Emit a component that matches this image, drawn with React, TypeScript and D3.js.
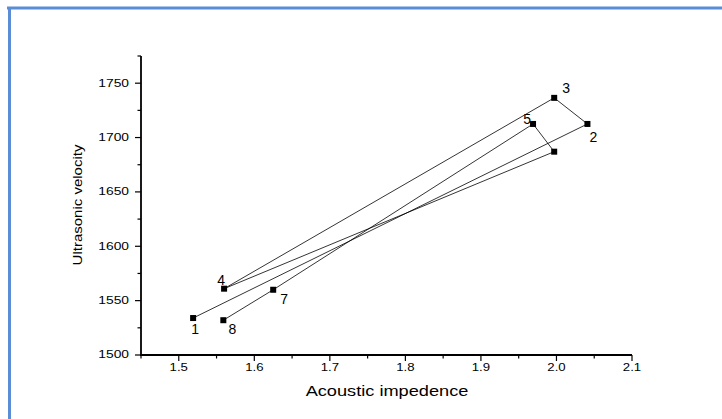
import React from 'react';
import * as d3 from 'd3';

// samples in the order the line joins them: (acoustic impedance, ultrasonic velocity)
const labels = ['1', '2', '3', '4', '6', '5', '7', '8'];
const impedance = [1.519, 2.041, 1.997, 1.56, 1.997, 1.969, 1.625, 1.559];
const velocity = [1534, 1712.5, 1736.5, 1561, 1687, 1712.5, 1560, 1532];
const xTicks = [1.5, 1.6, 1.7, 1.8, 1.9, 2.0, 2.1];
const yTicks = [1500, 1550, 1600, 1650, 1700, 1750];

// where each number sits relative to its marker (px); point 6 has none
const labelOffset: Record<string, [number, number] | null> = {
  '1': [2, 11],
  '2': [6, 13],
  '3': [12, -10],
  '4': [-3, -9],
  '5': [-6, -5],
  '6': null,
  '7': [11, 9],
  '8': [9, 9],
};

const W = 722;
const H = 419;
const font = "'Liberation Sans', Arial, sans-serif";

const App = () => {
  const x = d3.scaleLinear().domain([1.45, 2.1]).range([141, 632]);
  const y = d3.scaleLinear().domain([1500, 1775]).range([355, 56]);

  const pts = labels.map((l, i) => ({ label: l, x: x(impedance[i]), y: y(velocity[i]) }));
  const line = d3.line<{ x: number; y: number }>().x(d => d.x).y(d => d.y);

  const xMinor = d3.range(1.45, 2.1, 0.1).map(v => +(v.toFixed(2)));
  const yMinor = d3.range(1525, 1800, 50);

  return (
    <svg
      width={W}
      height={H}
      style={{ position: 'absolute', left: 0, top: 0, background: '#fff' }}
    >
      {/* blue frame */}
      <line x1={7} x2={W} y1={8} y2={8} stroke="#5b8dd6" strokeWidth={3} />
      <line x1={9.5} x2={9.5} y1={7} y2={H} stroke="#5b8dd6" strokeWidth={3} />

      {/* y axis */}
      <line x1={x(1.45)} x2={x(1.45)} y1={y(1775)} y2={y(1500) + 1} stroke="#000" strokeWidth={1.8} />
      {yTicks.map(t => (
        <g key={'yt' + t}>
          <line x1={x(1.45) - 6} x2={x(1.45)} y1={y(t)} y2={y(t)} stroke="#000" strokeWidth={1.2} />
          <text
            transform={`translate(${x(1.45) - 12},${y(t)}) scale(1.38,1)`}
            textAnchor="end"
            dominantBaseline="central"
            fontFamily={font}
            fontSize={10}
          >
            {t}
          </text>
        </g>
      ))}
      {yMinor.map(t => (
        <line key={'ym' + t} x1={x(1.45) - 3.5} x2={x(1.45)} y1={y(t)} y2={y(t)} stroke="#000" strokeWidth={1.2} />
      ))}

      {/* x axis */}
      <line x1={x(1.45) - 1} x2={x(2.1)} y1={y(1500)} y2={y(1500)} stroke="#000" strokeWidth={1.8} />
      {xTicks.map(t => (
        <g key={'xt' + t}>
          <line x1={x(t)} x2={x(t)} y1={y(1500)} y2={y(1500) + 6} stroke="#000" strokeWidth={1.2} />
          <text
            transform={`translate(${x(t)},${y(1500) + 12}) scale(1.32,1)`}
            textAnchor="middle"
            dominantBaseline="central"
            fontFamily={font}
            fontSize={10}
          >
            {t.toFixed(1)}
          </text>
        </g>
      ))}
      {xMinor.map(t => (
        <line key={'xm' + t} x1={x(t)} x2={x(t)} y1={y(1500)} y2={y(1500) + 3.5} stroke="#000" strokeWidth={1.2} />
      ))}

      {/* axis titles */}
      <text
        transform={`translate(387,391) scale(1.3,1)`}
        textAnchor="middle"
        dominantBaseline="central"
        fontFamily={font}
        fontSize={14}
      >
        Acoustic impedence
      </text>
      <text
        transform={`translate(77,205) scale(0.85,1) rotate(-90)`}
        textAnchor="middle"
        dominantBaseline="central"
        fontFamily={font}
        fontSize={15}
      >
        Ultrasonic velocity
      </text>

      {/* connecting line and markers */}
      <path d={line(pts) || ''} fill="none" stroke="#000" strokeWidth={0.8} />
      {pts.map(p => (
        <rect key={'m' + p.label} x={p.x - 3} y={p.y - 3} width={6} height={6} fill="#000" />
      ))}
      {pts.map(p => {
        const off = labelOffset[p.label];
        if (!off) return null;
        return (
          <text
            key={'l' + p.label}
            x={p.x + off[0]}
            y={p.y + off[1]}
            textAnchor="middle"
            dominantBaseline="central"
            fontFamily={font}
            fontSize={14}
          >
            {p.label}
          </text>
        );
      })}
    </svg>
  );
};

export default App;
